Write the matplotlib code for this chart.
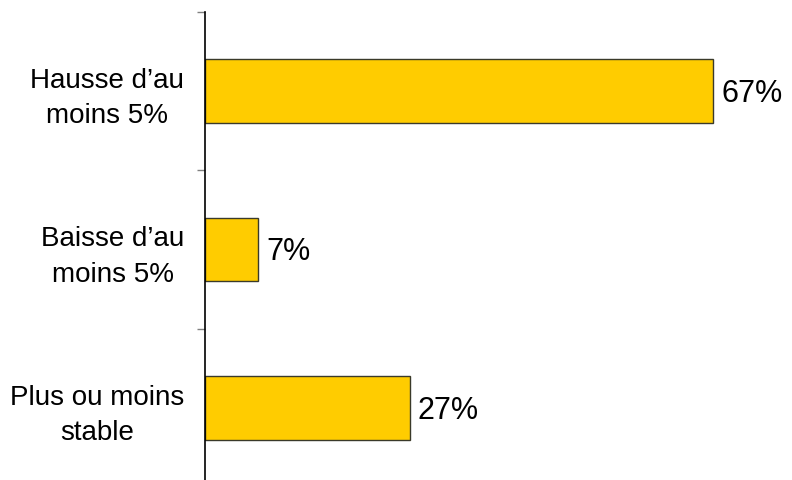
import matplotlib
matplotlib.use("Agg")
import matplotlib.pyplot as plt
import numpy as np

categories = ["Hausse d\u2019au\nmoins 5%", "Baisse d\u2019au\nmoins 5%", "Plus ou moins\nstable"]
values = [67, 7, 27]
value_labels = ["67%", "7%", "27%"]

plt.rcParams['font.family'] = ['Liberation Sans', 'DejaVu Sans']

W, H = 792, 480
fig = plt.figure(figsize=(W / 100, H / 100), dpi=100)
left_px, top_px, bottom_px, right_px = 205, 12, 487, 792
ax = fig.add_axes([left_px / W, (H - bottom_px) / H, (right_px - left_px) / W, (bottom_px - top_px) / H])

y = np.arange(len(categories))
ax.barh(y, values, height=0.4, color="#FFCC00", edgecolor="#3a3a2a", linewidth=1.0)
ax.set_ylim(len(categories) - 0.5, -0.5)
ax.set_xlim(0, (right_px - left_px) / 7.58)

ax.set_yticks(y)
ax.set_yticklabels(categories, fontsize=20, ha='right', multialignment='center', linespacing=1.45)
ax.tick_params(axis='y', which='major', length=0, pad=15)
ax.set_yticks(np.arange(-0.5, len(categories)), minor=True)
ax.tick_params(axis='y', which='minor', length=6, width=1.0, color="#808080", direction='out')
ax.set_xticks([])

for s in ['top', 'right', 'bottom']:
    ax.spines[s].set_visible(False)
ax.spines['left'].set_linewidth(1.2)
ax.spines['left'].set_color('black')

for yi, v, lab in zip(y, values, value_labels):
    ax.annotate(lab, xy=(v, yi), xytext=(6, -2), textcoords='offset points',
                va='center', ha='left', fontsize=22)

fig.savefig("out.png", dpi=100)
